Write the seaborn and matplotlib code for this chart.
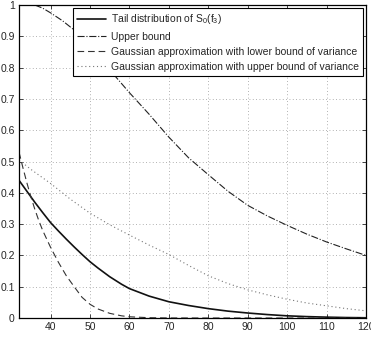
import numpy as np
import pandas as pd
import matplotlib
matplotlib.use("Agg")
import matplotlib.pyplot as plt
import seaborn as sns

sns.set_style("ticks")
plt.rcParams["font.family"] = ["Liberation Sans", "DejaVu Sans"]
plt.rcParams["mathtext.fontset"] = "custom"
plt.rcParams["mathtext.rm"] = "Liberation Sans"
plt.rcParams["mathtext.it"] = "Liberation Sans"
plt.rcParams["mathtext.default"] = "regular"

# tail distribution (solid)
tail_x = [32, 34, 36, 38, 40, 42, 44, 46, 48, 50, 52, 55, 58, 60, 65, 70, 75, 80, 85, 90, 95, 100, 105, 110, 115, 120]
tail_y = [0.44, 0.405, 0.37, 0.337, 0.305, 0.278, 0.252, 0.227, 0.203, 0.18, 0.16, 0.132, 0.108,
          0.094, 0.07, 0.052, 0.04, 0.03, 0.022, 0.016, 0.011, 0.007, 0.0045, 0.0028, 0.0015, 0.0008]

# upper bound (dash-dot)
upper_x = [32, 34, 36, 38, 40, 43, 47, 50, 55, 60, 65, 70, 75, 80, 85, 90, 95, 100, 105, 110, 115, 120]
upper_y = [1.03, 1.015, 1.0, 0.99, 0.975, 0.95, 0.91, 0.868, 0.793, 0.72, 0.651, 0.578,
           0.512, 0.458, 0.405, 0.36, 0.326, 0.296, 0.268, 0.243, 0.221, 0.2]

# gaussian approx, lower bound of variance (dashed)
glow_x = [32, 33, 34, 35, 36, 37, 38, 40, 42, 44, 46, 48, 50, 52, 55, 58, 60, 65, 70, 80, 120]
glow_y = [0.53, 0.48, 0.432, 0.388, 0.348, 0.312, 0.28, 0.226, 0.178, 0.135, 0.1, 0.066, 0.044,
          0.029, 0.015, 0.007, 0.004, 0.001, 0.0002, 0.0, 0.0]

# gaussian approx, upper bound of variance (dotted)
ghigh_x = [32, 35, 40, 45, 50, 55, 60, 65, 70, 75, 80, 85, 90, 95, 100, 105, 110, 115, 120]
ghigh_y = [0.505, 0.475, 0.43, 0.38, 0.335, 0.298, 0.265, 0.233, 0.203, 0.168, 0.135,
           0.11, 0.09, 0.074, 0.06, 0.048, 0.039, 0.03, 0.023]

series = [
    (tail_x, tail_y, r"Tail distribution of S$_0$(f$_3$)", "-", 1.2, "#111111"),
    (upper_x, upper_y, "Upper bound", "-.", 0.8, "#222222"),
    (glow_x, glow_y, "Gaussian approximation with lower bound of variance", (0, (6, 3.5)), 0.8, "#333333"),
    (ghigh_x, ghigh_y, "Gaussian approximation with upper bound of variance", (0, (1, 2.5)), 0.8, "#777777"),
]

fig = plt.figure(figsize=(3.71, 3.41), dpi=100)
ax = fig.add_axes([0.0512, 0.0674, 0.9353, 0.9179])

for xs, ys, label, ls, lw, col in series:
    df = pd.DataFrame({"x": xs, "y": ys})
    sns.lineplot(data=df, x="x", y="y", ax=ax, color=col, linestyle=ls,
                 linewidth=lw, label=label)

ax.set_xlim(32, 120)
ax.set_ylim(0, 1)
ax.set_xticks(np.arange(40, 121, 10))
ax.set_yticks(np.arange(0, 1.01, 0.1))
ax.set_yticklabels(["0", "0.1", "0.2", "0.3", "0.4", "0.5", "0.6", "0.7", "0.8", "0.9", "1"])
ax.set_xlabel("")
ax.set_ylabel("")
ax.grid(True, linestyle=(0, (1, 3)), color="#999999", linewidth=0.6)
ax.tick_params(direction="in", top=True, right=True, labelsize=7.5, length=3, width=0.6, pad=3)
for sp in ax.spines.values():
    sp.set_linewidth(0.9)
    sp.set_color("black")

leg = ax.legend(loc="upper right", fontsize=7.5, frameon=True, fancybox=False,
                borderaxespad=0.3, handlelength=2.8, handletextpad=0.45,
                labelspacing=0.5, borderpad=0.4)
leg.get_frame().set_edgecolor("black")
leg.get_frame().set_linewidth(0.8)
leg.get_frame().set_alpha(1)

fig.savefig("out.png", dpi=100)
